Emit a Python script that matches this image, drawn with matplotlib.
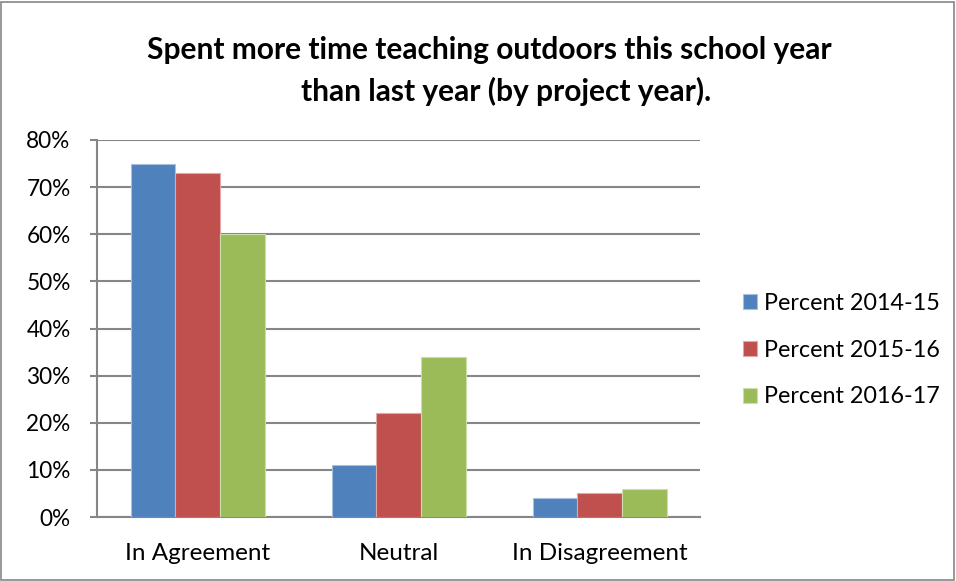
import matplotlib
matplotlib.use("Agg")
import matplotlib.pyplot as plt
import numpy as np
from matplotlib.patches import Rectangle

categories = ["In Agreement", "Neutral", "In Disagreement"]
series_names = ["Percent 2014-15", "Percent 2015-16", "Percent 2016-17"]
p2014 = [75, 11, 4]
p2015 = [73, 22, 5]
p2016 = [60, 34, 6]
yticks = [0, 10, 20, 30, 40, 50, 60, 70, 80]
colors = ["#4F81BD", "#C0504D", "#9BBB59"]
edges = ["#A7C0DE", "#E0A8A6", "#CDDDAC"]

plt.rcParams['font.family'] = ['Lato', 'DejaVu Sans']

fig = plt.figure(figsize=(9.56, 5.81), dpi=100)
W, H = 956, 581
ax = fig.add_axes([97 / W, 1 - 517 / H, (700 - 97) / W, (517 - 140) / H])

x = np.arange(len(categories))
bw = 1 / 4.5
for i, (vals, c, e, name) in enumerate(zip([p2014, p2015, p2016], colors, edges, series_names)):
    ax.bar(x + (i - 1) * bw, vals, width=bw, color=c, edgecolor=e, linewidth=0.8,
           label=name, zorder=3)

ax.set_xlim(-0.5, 2.5)
ax.set_ylim(0, 80)
ax.set_yticks(yticks)
ax.set_yticklabels([f"{v}%" for v in yticks], fontsize=16.3)
ax.set_xticks(x)
ax.set_xticklabels(categories, fontsize=17.5)
ax.yaxis.grid(True, color="#868686", linewidth=1.5, zorder=0)
for s in ["top", "right"]:
    ax.spines[s].set_visible(False)
for s in ["left", "bottom"]:
    ax.spines[s].set_color("#868686")
    ax.spines[s].set_linewidth(1.5)
ax.tick_params(axis="y", length=5, width=1.5, color="#868686", pad=14)
ax.tick_params(axis="x", length=0, pad=19)

fig.text(489 / W, 1 - 50 / H, "Spent more time teaching outdoors this school year",
         ha="center", va="center", fontsize=21.5, fontweight="bold")
fig.text(506 / W, 1 - 91 / H, "than last year (by project year).",
         ha="center", va="center", fontsize=21.5, fontweight="bold")

leg = fig.legend(loc="upper left", bbox_to_anchor=(722 / W, 1 - 272 / H), frameon=False,
                 fontsize=16.8, handlelength=0.6, handleheight=0.6, handletextpad=0.3,
                 labelspacing=1.1)

fig.patches.append(Rectangle((1 / W, 1 / H), 1 - 3 / W, 1 - 3 / H, transform=fig.transFigure,
                             fill=False, edgecolor="#868686", linewidth=1.2))

fig.savefig("out.png", dpi=100)
